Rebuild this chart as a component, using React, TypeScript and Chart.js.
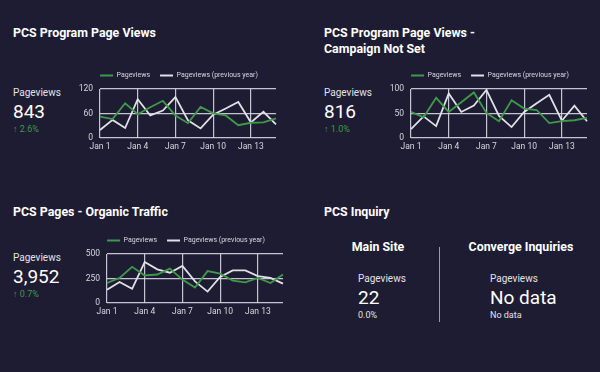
import React, { useEffect, useRef } from "react";
import { Chart, registerables } from "chart.js";

Chart.register(...registerables);

// ---- data ----
const days = ["Jan 1", "Jan 2", "Jan 3", "Jan 4", "Jan 5", "Jan 6", "Jan 7", "Jan 8", "Jan 9", "Jan 10", "Jan 11", "Jan 12", "Jan 13", "Jan 14", "Jan 15"];

const programViews = [52, 46, 85, 58, 75, 91, 55, 36, 76, 60, 55, 31, 37, 38, 48];
const programViewsPrev = [19, 44, 24, 95, 55, 67, 100, 43, 23, 57, 72, 88, 38, 64, 33];
const programTicks = [0, 60, 120];

const campaignViews = [53, 42, 82, 53, 73, 93, 51, 34, 77, 60, 57, 30, 34, 36, 41];
const campaignViewsPrev = [18, 44, 24, 91, 53, 66, 98, 45, 22, 53, 71, 88, 35, 66, 34];
const campaignTicks = [0, 50, 100];

const organicViews = [203, 255, 369, 280, 290, 350, 238, 157, 325, 300, 227, 210, 255, 203, 290];
const organicViewsPrev = [133, 213, 143, 418, 343, 308, 378, 220, 115, 265, 332, 332, 273, 255, 196];
const organicTicks = [0, 250, 500];

const seriesNames = ["Pageviews", "Pageviews (previous year)"];

// ---- styles ----
const BG = "#1e1c32";
const GREEN = "#3e9a48";
const WHITE_LINE = "#e0e0e6";
const GRID = "rgba(215,215,225,0.9)";
const TICK = "#d6d6de";
const FONT = "Roboto, 'Noto Sans', sans-serif";

const legendShift = {
  id: "legendShift",
  afterLayout(chart: any) {
    if (chart.legend) {
      chart.legend.left += 7;
      chart.legend.right += 7;
    }
  },
};

function LineChart(props: { current: number[]; previous: number[]; ticks: number[]; left: number; top: number; width: number; height: number }) {
  const ref = useRef<HTMLCanvasElement | null>(null);
  useEffect(() => {
    if (!ref.current) return;
    const ticks = props.ticks;
    const chart = new Chart(ref.current, {
      type: "line",
      data: {
        labels: days,
        datasets: [
          { label: seriesNames[0], data: props.current, borderColor: GREEN, backgroundColor: GREEN, borderWidth: 1.8, pointRadius: 0, tension: 0 },
          { label: seriesNames[1], data: props.previous, borderColor: WHITE_LINE, backgroundColor: WHITE_LINE, borderWidth: 1.8, pointRadius: 0, tension: 0 },
        ],
      },
      plugins: [legendShift],
      options: {
        animation: false,
        responsive: true,
        maintainAspectRatio: false,
        layout: { padding: { right: 4, left: 0, top: 0, bottom: 0 } },
        plugins: {
          tooltip: { enabled: false },
          legend: {
            position: "top",
            labels: {
              color: TICK,
              font: { size: 7, family: FONT },
              boxWidth: 13,
              boxHeight: 2,
              padding: 10,
              generateLabels: (c: any) =>
                Chart.defaults.plugins.legend.labels.generateLabels(c).map((it: any) => ({ ...it, lineWidth: 0, fillStyle: it.strokeStyle })),
            },
          },
        },
        scales: {
          x: {
            grid: {
              color: (ctx: any) => (ctx.index % 3 === 0 ? GRID : "rgba(0,0,0,0)"),
              drawTicks: false,
              lineWidth: 1.2,
            },
            border: { display: false },
            ticks: {
              autoSkip: false,
              maxRotation: 0,
              padding: 4,
              color: TICK,
              font: { size: 8.5, family: FONT },
              callback: (_v: any, i: number) => (i % 3 === 0 ? days[i] : ""),
            },
          },
          y: {
            min: ticks[0],
            max: ticks[ticks.length - 1],
            grid: { color: GRID, drawTicks: false, lineWidth: 1.2 },
            border: { display: false },
            ticks: { stepSize: ticks[1] - ticks[0], padding: 7, color: TICK, font: { size: 8.5, family: FONT } },
            afterFit: (s: any) => {
              s.width = 32;
            },
          },
        },
      },
    });
    return () => chart.destroy();
  }, []);
  return (
    <div style={{ position: "absolute", left: props.left, top: props.top, width: props.width, height: props.height }}>
      <canvas ref={ref} />
    </div>
  );
}

function T(props: { x: number; cy: number; size: number; weight?: number; color?: string; children: React.ReactNode; center?: boolean }) {
  const s: React.CSSProperties = {
    position: "absolute",
    top: props.cy - props.size * 0.5,
    left: props.x,
    fontSize: props.size,
    lineHeight: `${props.size}px`,
    fontWeight: props.weight ?? 400,
    color: props.color ?? "#ffffff",
    whiteSpace: "nowrap",
    fontFamily: FONT,
  };
  if (props.center) s.transform = "translateX(-50%)";
  return <div style={s}>{props.children}</div>;
}

function Score(props: { x: number; cy: number; value: string; delta: string }) {
  return (
    <>
      <T x={props.x} cy={props.cy} size={10} color="#e2e2e8">Pageviews</T>
      <T x={props.x} cy={props.cy + 18} size={19}>{props.value}</T>
      <T x={props.x} cy={props.cy + 36} size={9} color={GREEN}>{props.delta}</T>
    </>
  );
}

export default function App() {
  useEffect(() => {
    document.body.style.margin = "0";
    document.body.style.background = BG;
  }, []);
  return (
    <div style={{ position: "relative", width: 600, height: 372, background: BG, overflow: "hidden", fontFamily: FONT }}>
      <T x={13} cy={33} size={12.4} weight={700}>PCS Program Page Views</T>
      <T x={324} cy={33} size={12.4} weight={700}>PCS Program Page Views -</T>
      <T x={324} cy={49} size={12.4} weight={700}>Campaign Not Set</T>
      <T x={13} cy={212} size={12.4} weight={700}>PCS Pages - Organic Traffic</T>
      <T x={324} cy={212} size={12.4} weight={700}>PCS Inquiry</T>

      <Score x={13} cy={93} value="843" delta="↑ 2.6%" />
      <Score x={324} cy={93} value="816" delta="↑ 1.0%" />
      <Score x={13} cy={258} value="3,952" delta="↑ 0.7%" />

      <LineChart current={programViews} previous={programViewsPrev} ticks={programTicks} left={68} top={62} width={212} height={94} />
      <LineChart current={campaignViews} previous={campaignViewsPrev} ticks={campaignTicks} left={379} top={62} width={212} height={94} />
      <LineChart current={organicViews} previous={organicViewsPrev} ticks={organicTicks} left={75} top={227} width={212} height={94} />

      <T x={378} cy={247} size={12.4} weight={700} center>Main Site</T>
      <T x={521} cy={247} size={12.4} weight={700} center>Converge Inquiries</T>
      <div style={{ position: "absolute", left: 439, top: 247, width: 1, height: 75, background: "#9a9aa6" }} />
      <T x={358} cy={279} size={10} color="#e2e2e8">Pageviews</T>
      <T x={358} cy={297} size={19}>22</T>
      <T x={358} cy={315} size={9} color="#e2e2e8">0.0%</T>
      <T x={490} cy={279} size={10} color="#e2e2e8">Pageviews</T>
      <T x={490} cy={297} size={19}>No data</T>
      <T x={490} cy={315} size={9} color="#e2e2e8">No data</T>
    </div>
  );
}
